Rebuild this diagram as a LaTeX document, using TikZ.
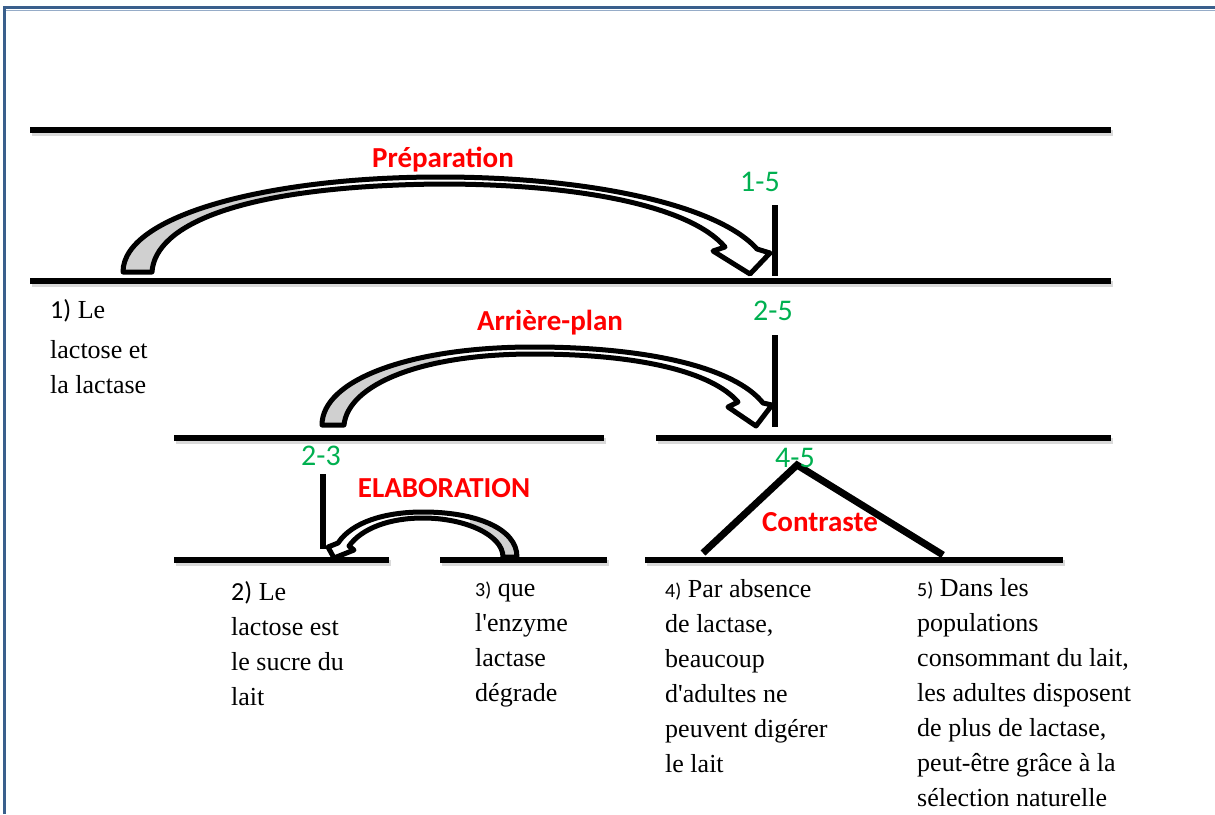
\documentclass[tikz,border=0pt]{standalone}
\usepackage{fontspec}
\setmainfont{Liberation Serif}[Ligatures=TeXOff]
\newfontfamily\calfont{Carlito}
\usetikzlibrary{calc}

\definecolor{framecol}{RGB}{58,95,140}
\definecolor{framelight}{RGB}{150,172,200}
\definecolor{labred}{RGB}{255,0,0}
\definecolor{labgreen}{RGB}{0,176,80}
\definecolor{bandgray}{RGB}{208,208,208}

\tikzset{
  seg/.style={line width=6.5pt, black,
    preaction={draw=black!15, line width=6.5pt, transform canvas={shift={(1.5pt,-3pt)}}}},
  bar/.style={line width=6pt, black},
  roof/.style={line width=7pt, black, line join=miter},
  txt/.style={font=\fontsize{26}{35}\selectfont, align=left, inner sep=0pt, anchor=north west},
  redlab/.style={font=\calfont\bfseries\fontsize{29}{31}\selectfont, text=labred, inner sep=0pt},
  greenlab/.style={font=\calfont\fontsize{30}{32}\selectfont, text=labgreen, inner sep=0pt},
  bandedge/.style={draw=black, line width=5pt, line join=round},
}
\newcommand\smallnum[1]{{\calfont\fontsize{20}{35}\selectfont #1}}
\newcommand\bignum[1]{{\calfont #1}}

% outlines of the three curved block arrows
\def\bandPrep{(123,272) .. controls (123,215) and (270,177) .. (440,177)
  .. controls (590,177) and (718,205) .. (757,249)
  -- (770,253) -- (750,274) -- (713,251) -- (725,247)
  .. controls (690,206) and (580,184) .. (440,184)
  .. controls (240,186) and (155,225) .. (152,272) -- cycle}
\def\bandBack{(322,425) .. controls (322,380) and (410,347) .. (533,347)
  .. controls (650,347) and (735,368) .. (763,403)
  -- (772,405) -- (756,426) -- (728,407) -- (738,402)
  .. controls (712,372) and (640,354) .. (533,354)
  .. controls (420,354) and (348,385) .. (344,425) -- cycle}
\def\bandElab{(517,557) .. controls (517,528) and (475,512) .. (423,512)
  .. controls (385,512) and (352,522) .. (338,543)
  -- (328,547) -- (334,558) -- (354,550) -- (349,546)
  .. controls (362,528) and (390,518) .. (423,518)
  .. controls (465,518) and (503,535) .. (503,557) -- cycle}

\begin{document}
\begin{tikzpicture}[x=1pt,y=-1pt]
\useasboundingbox (0,0) rectangle (1215,814);

% page frame
\draw[framelight, line width=1.5pt] (6,10.5) -- (1215,10.5);
\draw[framecol, line width=3pt] (4,814) -- (4,7.5) -- (1215,7.5);

% horizontal segments
\coordinate (h1a) at (30,130);  \coordinate (h1b) at (1111,130);
\coordinate (h2a) at (30,281);  \coordinate (h2b) at (1111,281);
\coordinate (h3a) at (174,438); \coordinate (h3b) at (604,438);
\coordinate (h3c) at (656,438); \coordinate (h3d) at (1111,438);
\coordinate (h4a) at (174,560); \coordinate (h4b) at (389,560);
\coordinate (h4c) at (440,560); \coordinate (h4d) at (607,560);
\coordinate (h4e) at (645,560); \coordinate (h4f) at (1063,560);
\draw[seg] (h1a) -- (h1b);
\draw[seg] (h2a) -- (h2b);
\draw[seg] (h3a) -- (h3b);
\draw[seg] (h3c) -- (h3d);
\draw[seg] (h4a) -- (h4b);
\draw[seg] (h4c) -- (h4d);
\draw[seg] (h4e) -- (h4f);

% vertical bars
\coordinate (v1t) at (775,205); \coordinate (v1b) at (775,276);
\coordinate (v2t) at (775,335); \coordinate (v2b) at (775,427);
\coordinate (v3t) at (323,474); \coordinate (v3b) at (323,549);
\draw[bar] (v1t) -- (v1b);
\draw[bar] (v2t) -- (v2b);
\draw[bar] (v3t) -- (v3b);

% contrast roof
\coordinate (r1) at (703,553); \coordinate (r2) at (797,465); \coordinate (r3) at (943,555);
\draw[roof] (r1) -- (r2) -- (r3);

% curved arrows
\fill[white] \bandPrep;
\begin{scope}\clip (100,150) rectangle (300,290); \fill[bandgray] \bandPrep; \end{scope}
\draw[bandedge] \bandPrep;

\fill[white] \bandBack;
\begin{scope}\clip (300,330) rectangle (440,430); \fill[bandgray] \bandBack; \end{scope}
\draw[bandedge] \bandBack;

\fill[white] \bandElab;
\begin{scope}\clip (470,500) rectangle (530,560); \fill[bandgray] \bandElab; \end{scope}
\draw[bandedge] \bandElab;

% relation labels
\node[redlab] (prep) at (443,160) {Préparation};
\node[redlab] (back) at (550,323) {Arrière-plan};
\node[redlab] (elab) at (444,488) {ELABORATION};
\node[redlab] (contr) at (820,522) {Contraste};

% span labels
\node[greenlab] (s15) at (760,182) {1-5};
\node[greenlab] (s25) at (773,311) {2-5};
\node[greenlab] (s23) at (321,456) {2-3};
\node[greenlab] (s45) at (795,458) {4-5};

% segment texts
\node[txt] (t1) at (50,299) {\bignum{1)} Le\\[5pt] lactose et\\ la lactase};
\node[txt] (t2) at (231,581) {\bignum{2)} Le\\ lactose est\\ le sucre du\\ lait};
\node[txt] (t3) at (475,582) {\smallnum{3)} que\\ l'enzyme\\ lactase\\ dégrade};
\node[txt] (t4) at (665,579) {\smallnum{4)} Par absence\\ de lactase,\\ beaucoup\\ d'adultes ne\\ peuvent digérer\\ le lait};
\node[txt] (t5) at (917,578) {\smallnum{5)} Dans les\\ populations\\ consommant du lait,\\ les adultes disposent\\ de plus de lactase,\\ peut-être grâce à la\\ sélection naturelle};
\end{tikzpicture}
\end{document}
